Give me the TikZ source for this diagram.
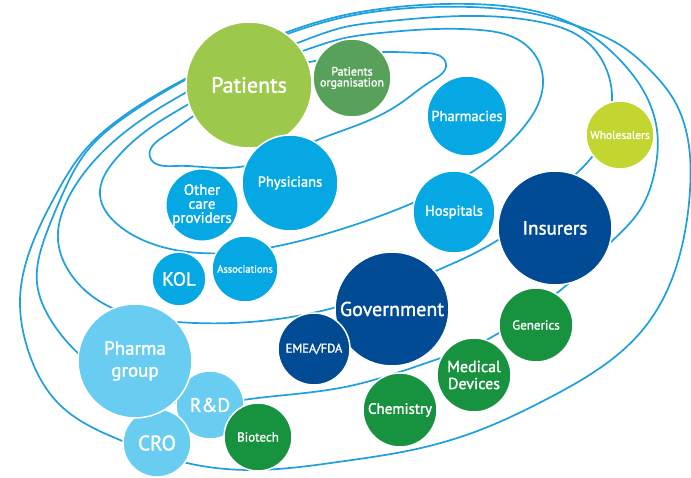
\documentclass[tikz,border=0pt]{standalone}
\usepackage{fontspec}
\setmainfont{PT Sans}
\newfontfamily\medfont{PT Sans}[FakeBold=1.5]
\usetikzlibrary{hobby}
\definecolor{orbitc}{HTML}{1D9FE0}
\definecolor{cPat}{HTML}{9CC94B}
\definecolor{cPatOrg}{HTML}{58A15B}
\definecolor{cCyan}{HTML}{06A8E4}
\definecolor{cYG}{HTML}{C3D62F}
\definecolor{cNavy}{HTML}{004B93}
\definecolor{cGreen}{HTML}{17923F}
\definecolor{cLight}{HTML}{69CDF2}
\newcommand{\fs}[1]{\medfont\fontsize{#1}{#1}\selectfont}
\begin{document}
\begin{tikzpicture}[x=1pt,y=-1pt,
  orbit/.style={draw=orbitc, line width=1.7pt, use Hobby shortcut, closed=true},
  bub/.style={circle, draw=white, line width=1.5pt, inner sep=0pt, text=white, align=center}]
\useasboundingbox (0,0) rectangle (691,478);
% orbits
\draw[orbit] (150,157) .. (175,166) .. (220,168) .. (270,160) .. (315,141) .. (355,126) .. (398,105) .. (433,80) .. (446,64) .. (425,53) .. (388,52) .. (320,60) .. (250,80) .. (192,117) .. (163,137);
\draw[orbit] (100,195) .. (117,224) .. (150,243) .. (200,253) .. (273,247) .. (345,228) .. (408,205) .. (472,172) .. (523,128) .. (542,92) .. (538,60) .. (515,38) .. (480,30) .. (380,33) .. (345,38) .. (300,52) .. (240,75) .. (187,105) .. (150,128) .. (115,160);
\draw[orbit] (58,240) .. (70,273) .. (110,307) .. (177,322) .. (250,322) .. (337,307) .. (438,270) .. (498,240) .. (577,173) .. (592,157) .. (608,125) .. (612,95) .. (603,62) .. (582,38) .. (540,22) .. (480,16) .. (380,22) .. (345,27) .. (300,42) .. (240,65) .. (185,93) .. (125,132) .. (88,168) .. (65,205);
\draw[orbit] (37,283) .. (52,322) .. (80,355) .. (140,392) .. (200,405) .. (243,400) .. (345,387) .. (435,360) .. (492,337) .. (530,312) .. (557,293) .. (585,268) .. (610,243) .. (640,210) .. (655,170) .. (657,130) .. (643,90) .. (615,55) .. (580,28) .. (530,10) .. (470,4) .. (380,9) .. (345,15) .. (290,31) .. (235,54) .. (185,80) .. (125,117) .. (87,151) .. (60,200) .. (44,240);
\draw[orbit] (20,300) .. (28,350) .. (60,405) .. (120,440) .. (187,463) .. (250,470) .. (345,461) .. (412,450) .. (480,430) .. (545,400) .. (600,368) .. (640,333) .. (665,295) .. (681,250) .. (690,190) .. (688,140) .. (674,100) .. (650,70) .. (620,45) .. (580,27) .. (530,13) .. (470,7) .. (380,11) .. (345,17) .. (290,33) .. (235,55) .. (185,79) .. (125,115) .. (85,150) .. (53,200) .. (30,250);
% bubbles
\node[bub, fill=cPat, minimum size=126pt, font=\fs{22}] (patients) at (249,85) {Patients};
\node[bub, fill=cPatOrg, minimum size=78pt, font=\fs{12}] (patorg) at (352,78) {Patients\\[-1pt]organisation};
\node[bub, fill=cCyan, minimum size=96pt, font=\fs{14.5}] (physicians) at (290,183) {Physicians};
\node[bub, fill=cCyan, minimum size=64pt, font=\fs{15}] (other) at (202,205) {Other\\[-1pt]care\\[-1pt]providers};
\node[bub, fill=cCyan, minimum size=80pt, font=\fs{14.5}] (pharmacies) at (467,116) {Pharmacies};
\node[bub, fill=cCyan, minimum size=82pt, font=\fs{14.5}] (hospitals) at (454,212) {Hospitals};
\node[bub, fill=cYG, minimum size=68pt, font=\fs{11.5}] (wholesalers) at (620,135) {Wholesalers};
\node[bub, fill=cNavy, minimum size=114pt, font=\fs{19}] (insurers) at (555,228) {Insurers};
\node[bub, fill=cNavy, minimum size=114pt, font=\fs{20}] (government) at (392,309) {Government};
\node[bub, fill=cNavy, minimum size=72pt, font=\fs{12.5}] (emea) at (314,349) {EMEA/FDA};
\node[bub, fill=cGreen, minimum size=74pt, font=\fs{13}] (generics) at (536,325) {Generics};
\node[bub, fill=cGreen, minimum size=74pt, font=\fs{16}] (meddev) at (474,375) {Medical\\[1pt]Devices};
\node[bub, fill=cGreen, minimum size=74pt, font=\fs{15}] (chemistry) at (400,410) {Chemistry};
\node[bub, fill=cCyan, minimum size=54pt, font=\fs{19}] (kol) at (179,279) {KOL};
\node[bub, fill=cCyan, minimum size=66pt, font=\fs{10.5}] (assoc) at (245,269) {Associations};
\node[bub, fill=cLight, minimum size=68pt, font=\fs{19.5}] (rd) at (210,405) {R\&D};
\node[bub, fill=cLight, minimum size=68pt, font=\fs{21}] (cro) at (157,443) {CRO};
\node[bub, fill=cLight, minimum size=114pt, font=\fs{19}] (pharma) at (135,361) {Pharma\\[3pt]group};
\node[bub, fill=cGreen, minimum size=68pt, font=\fs{13}] (biotech) at (258,437) {Biotech};
\end{tikzpicture}
\end{document}
